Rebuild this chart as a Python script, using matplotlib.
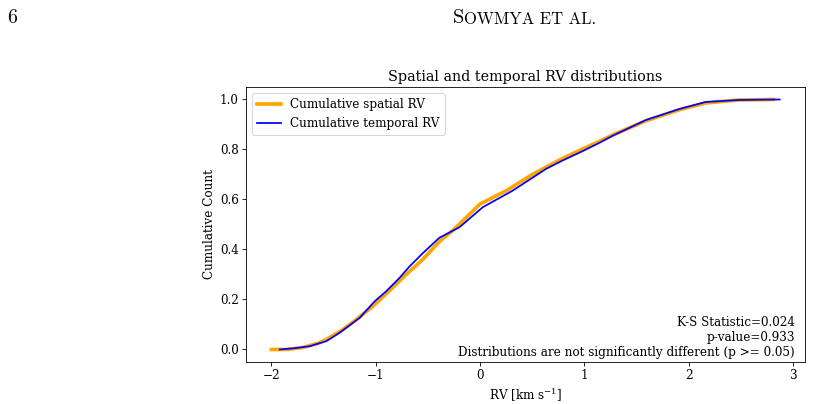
"""
Cumulative RV distributions (spatial vs temporal) with K-S test summary,
redrawn as a page crop with running header.
"""
import matplotlib
matplotlib.use("Agg")
import matplotlib.pyplot as plt
from matplotlib.text import Annotation

# ── Data ─────────────────────────────────────────────────────────────────────
spatial_rv = [-2.00, -1.85, -1.70, -1.55, -1.475, -1.316, -1.19, -1.03,
              -0.869, -0.709, -0.55, -0.39, -0.262, 0.00, 0.25, 0.50,
              0.76, 0.92, 1.14, 1.27, 1.59, 1.91, 2.16, 2.48, 2.81]
spatial_cdf = [0.000, 0.000, 0.008, 0.025, 0.040, 0.079, 0.119, 0.172,
               0.235, 0.300, 0.360, 0.432, 0.476, 0.582, 0.635, 0.700,
               0.758, 0.790, 0.832, 0.858, 0.915, 0.959, 0.986, 0.998, 1.000]

temporal_rv = [-1.92, -1.78, -1.635, -1.475, -1.35, -1.156, -1.012, -0.90,
               -0.773, -0.677, -0.55, -0.39, -0.198, 0.025, 0.31, 0.63,
               0.79, 0.98, 1.14, 1.27, 1.59, 1.91, 2.16, 2.48, 2.87]
temporal_cdf = [0.000, 0.005, 0.013, 0.033, 0.066, 0.126, 0.192, 0.233,
                0.286, 0.332, 0.385, 0.447, 0.489, 0.569, 0.635, 0.722,
                0.756, 0.793, 0.826, 0.855, 0.918, 0.962, 0.990, 0.998, 1.000]

ks_stat = 0.024
p_value = 0.933

# ── Style ────────────────────────────────────────────────────────────────────
plt.rcParams.update({
    "font.family":      "DejaVu Serif",
    "mathtext.fontset": "dejavuserif",
    "font.size":        11.5,
})

DPI = 75
fig = plt.figure(figsize=(813 / DPI, 404 / DPI), dpi=DPI)
ax = fig.add_axes([0.3026, 0.104, 0.6876, 0.6807])

ax.plot(spatial_rv, spatial_cdf, color="orange", linewidth=3.5,
        label="Cumulative spatial RV")
ax.plot(temporal_rv, temporal_cdf, color="blue", linewidth=1.7,
        label="Cumulative temporal RV")

ax.set_title("Spatial and temporal RV distributions")
ax.set_xlabel(r"RV [km s$^{-1}$]")
ax.set_ylabel("Cumulative Count")
ax.legend(loc="upper left")

verdict = ("Distributions are not significantly different (p >= 0.05)"
           if p_value >= 0.05 else
           "Distributions are significantly different (p < 0.05)")
ax.text(0.982, 0.01,
        f"K-S Statistic={ks_stat:.3f}\np-value={p_value:.3f}\n{verdict}",
        transform=ax.transAxes, ha="right", va="bottom")

# ── Page header (page number + small-caps running head) ──────────────────────
fig.text(7 / 813, 1 - 23 / 404, "6", family="cmr10", fontsize=19,
         ha="left", va="baseline")
head = fig.text(453 / 813, 1 - 23 / 404, "S", family="cmr10", fontsize=19.5,
                ha="left", va="baseline")
fig.add_artist(Annotation(
    "OWMYA ET AL.", xy=(1, 0), xycoords=head, va="bottom", ha="left",
    family="cmr10", fontsize=16))

fig.savefig("out.png", dpi=DPI)
